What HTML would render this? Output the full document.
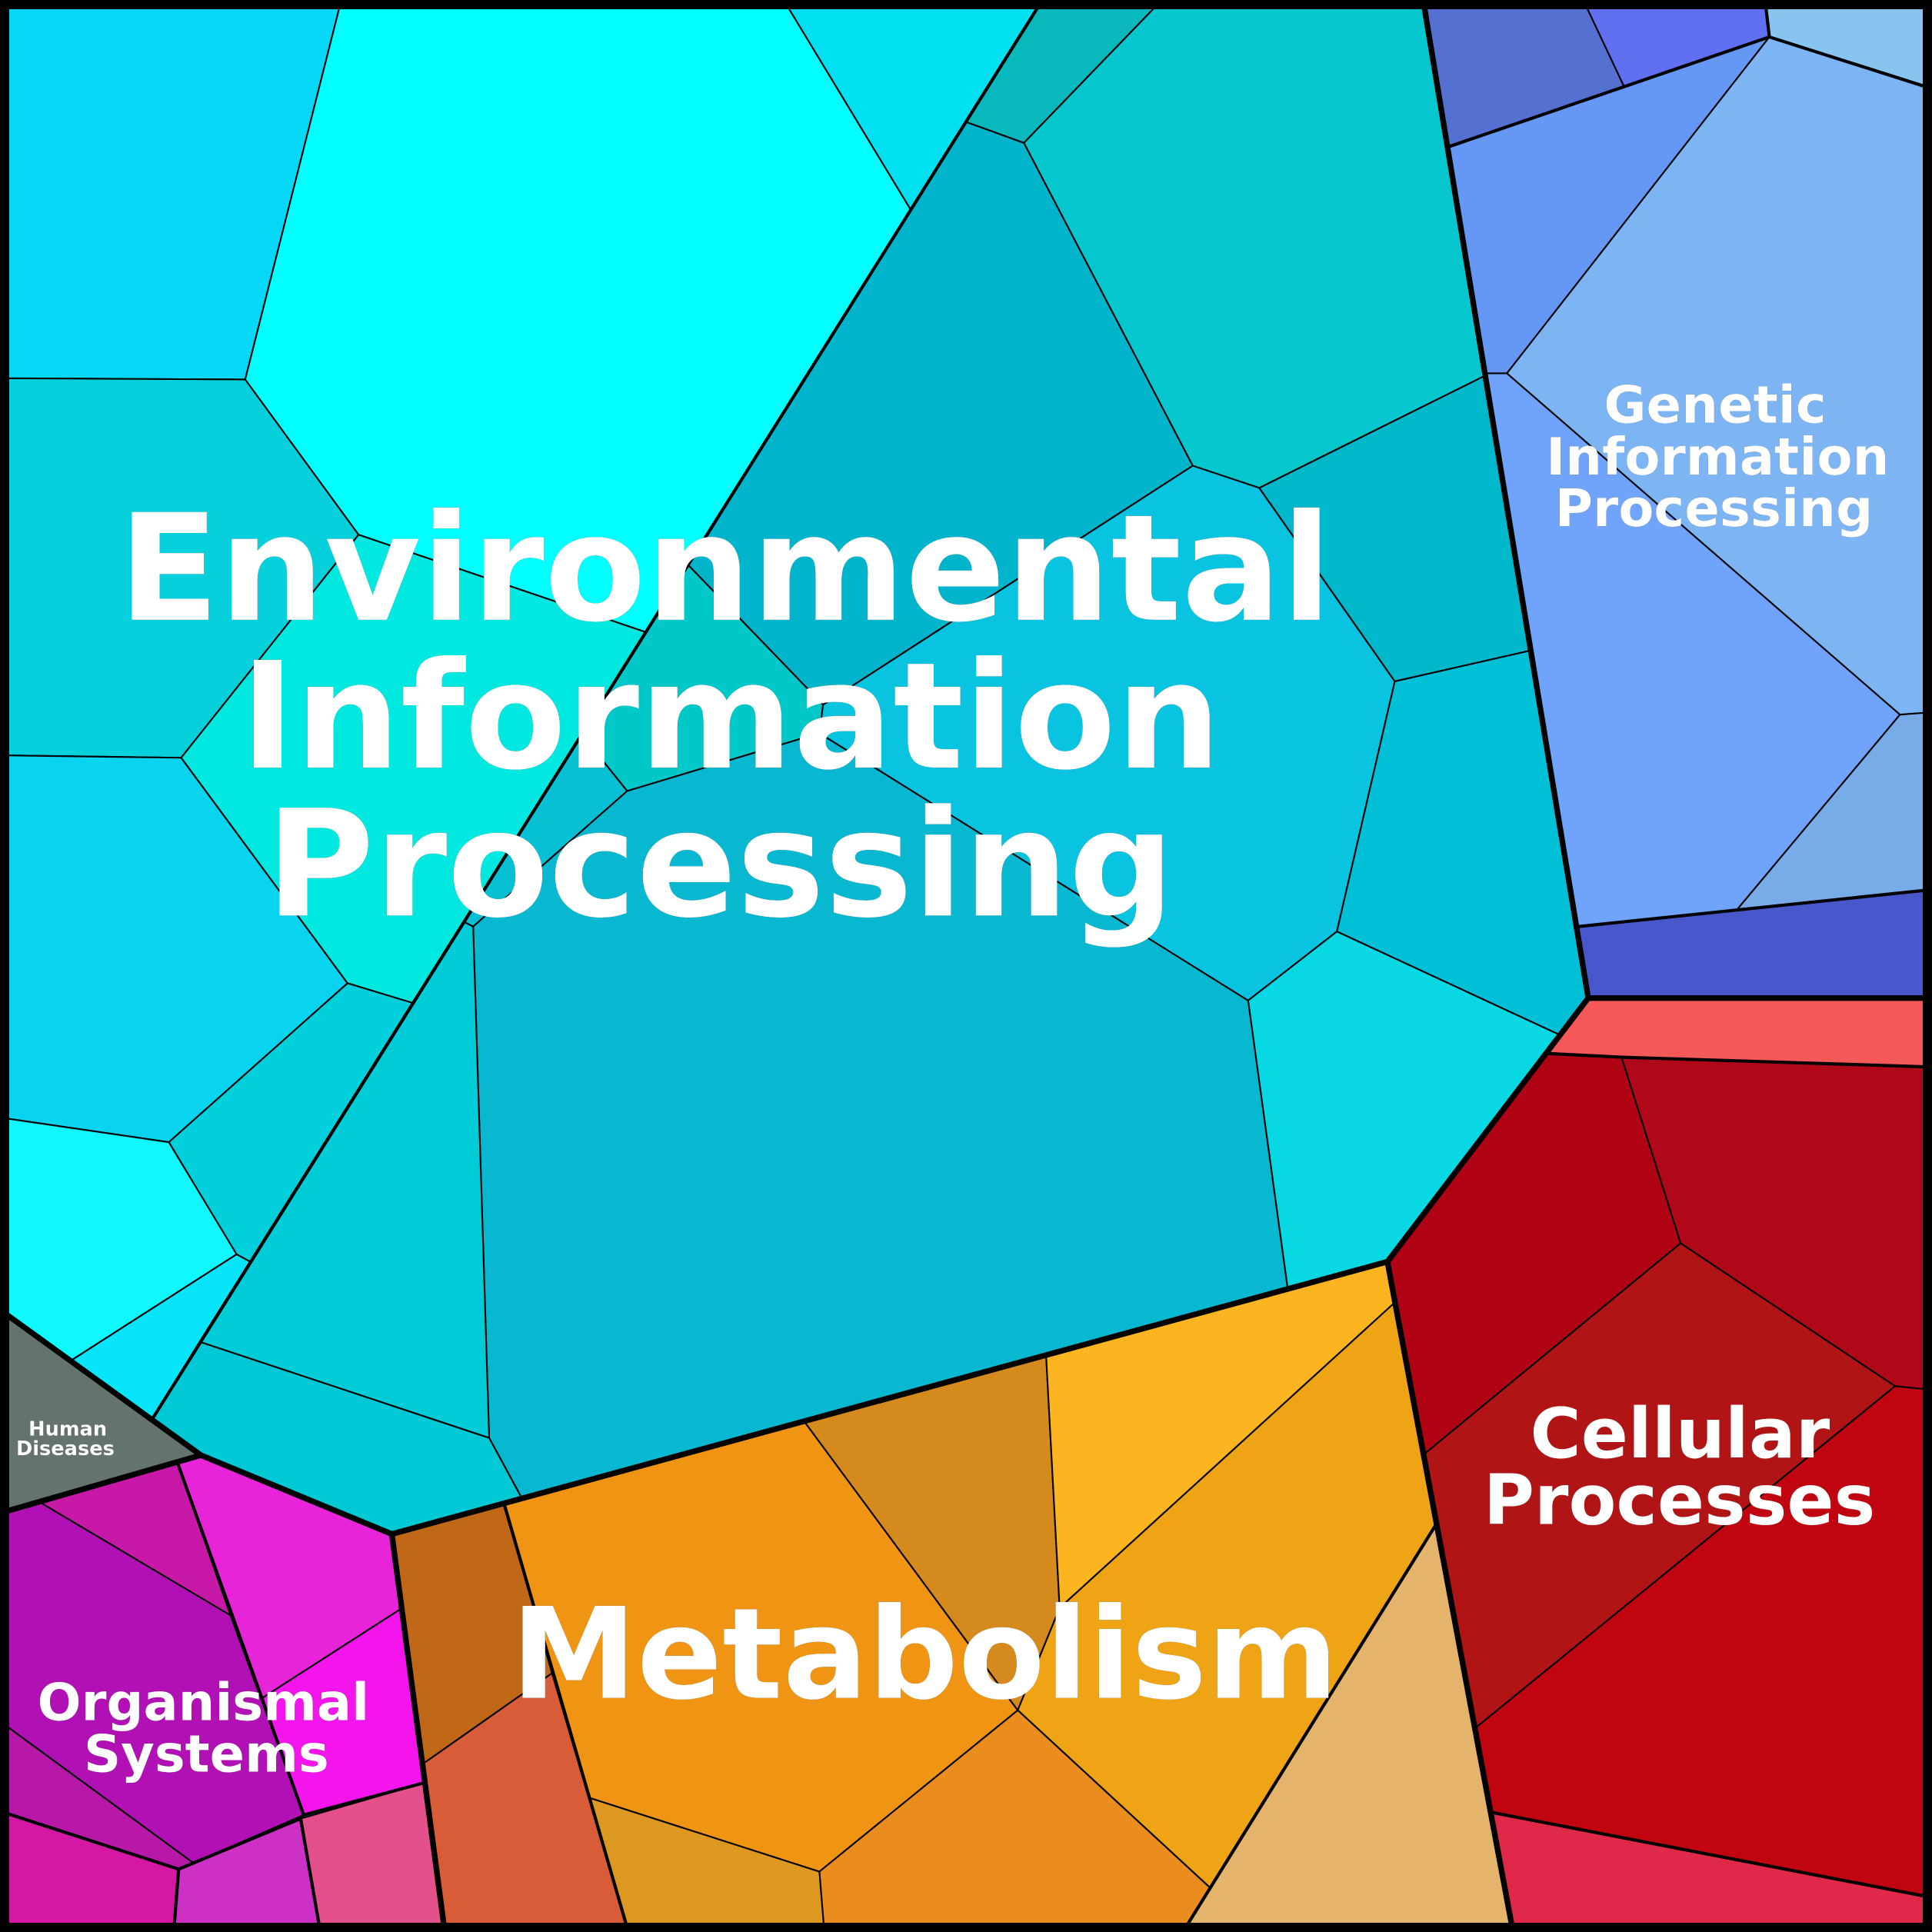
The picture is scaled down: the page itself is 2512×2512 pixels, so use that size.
<!DOCTYPE html>
<html><head><meta charset="utf-8"><style>
html,body{margin:0;padding:0;background:#000}
svg{display:block}
text{font-family:"DejaVu Sans","Liberation Sans",sans-serif;font-weight:bold;fill:#fff;text-anchor:middle;filter:drop-shadow(.95px .95px 0 #000)}
.c polygon{stroke:#000;stroke-width:1.3;stroke-linejoin:round}
.m{stroke:#000;stroke-width:2.6;fill:none;stroke-linecap:round;stroke-linejoin:round}
.t{stroke:#000;stroke-width:4.6;fill:none;stroke-linecap:round;stroke-linejoin:round}
</style></head><body>
<svg width="2512" height="2512" viewBox="0 0 1568 1568" xmlns="http://www.w3.org/2000/svg">
<rect width="1568" height="1568" fill="#08b8d0"/>
<g class="c">
<polygon fill="#08d8f8" points="0,0 277,0 199,308 0,307"/>
<polygon fill="#00ffff" points="277,0 636,0 739,170 524,513 291,434 199,308"/>
<polygon fill="#00e0f0" points="636,0 846,0 739,170"/>
<polygon fill="#05d0dc" points="0,307 199,308 291,434 147,615 0,613"/>
<polygon fill="#00e8e0" points="147,615 291,434 524,513 335,814 282,798"/>
<polygon fill="#08d4f0" points="0,613 147,615 282,798 137,927 0,907"/>
<polygon fill="#00d0dc" points="282,798 335,814 203,1024 192,1018 137,927"/>
<polygon fill="#10f8ff" points="0,907 137,927 192,1018 58,1104 0,1063"/>
<polygon fill="#08e4fa" points="58,1104 192,1018 203,1024 124,1151"/>
<polygon fill="#08b8bc" points="846,0 943,0 831,116 784,99"/>
<polygon fill="#06c6ce" points="943,0 1155,0 1205,305 1022,396 968,378 831,116"/>
<polygon fill="#00b4cc" points="784,99 831,116 968,378 668,572 558,458"/>
<polygon fill="#00c8c8" points="558,458 668,572 665,595 509,642 472,596"/>
<polygon fill="#08c0d4" points="472,596 509,642 384,752 376,748"/>
<polygon fill="#08b8d0" points="509,642 665,595 1013,812 1045,1045 423,1215 397,1167 384,752"/>
<polygon fill="#08c4e0" points="968,378 1022,396 1132,553 1085,756 1013,812 665,595 668,572"/>
<polygon fill="#00b8cc" points="1022,396 1205,305 1242,528 1132,553"/>
<polygon fill="#00c0d8" points="1132,553 1242,528 1289,810 1266,840 1085,756"/>
<polygon fill="#08d8e4" points="1085,756 1266,840 1126,1024 1045,1045 1013,812"/>
<polygon fill="#00ccd8" points="376,748 384,752 397,1167 162,1089"/>
<polygon fill="#00c8d4" points="162,1089 397,1167 423,1215 318,1245 163,1181 124,1151"/>

<polygon fill="#5470d0" points="1155,0 1285,0 1318,70 1176,119"/>
<polygon fill="#6070f0" points="1285,0 1432.5,0 1436,30 1318,70"/>
<polygon fill="#88c4f0" points="1432.5,0 1568,0 1568,72 1436,30"/>
<polygon fill="#6498f4" points="1176,119 1436,30 1223,303 1206,303"/>
<polygon fill="#7cb4f4" points="1436,30 1568,72 1568,578 1542,580 1223,303"/>
<polygon fill="#70a4fc" points="1206,303 1223,303 1542,580 1410,738 1281,752"/>
<polygon fill="#78ace8" points="1542,580 1568,578 1568,722 1410,738"/>
<polygon fill="#4858cc" points="1281,752 1568,722 1568,810 1289,810"/>

<polygon fill="#f45858" points="1289,810 1568,810 1568,866 1316,858 1256,855"/>
<polygon fill="#b00414" points="1256,855 1316,858 1364,1009 1156,1180 1126,1024"/>
<polygon fill="#b00818" points="1316,858 1568,866 1568,1128 1538,1125 1364,1009"/>
<polygon fill="#b01414" points="1364,1009 1538,1125 1198,1402 1156,1180"/>
<polygon fill="#c00410" points="1538,1125 1568,1128 1568,1540 1211,1471 1198,1402"/>
<polygon fill="#e02848" points="1211,1471 1568,1540 1568,1568 1228,1568"/>

<polygon fill="#c06818" points="318,1245 409,1220 448,1358 344,1431"/>
<polygon fill="#d85c38" points="344,1431 448,1358 510,1568 361,1568"/>
<polygon fill="#f09414" points="409,1220 653,1154 820,1380 826,1388 665,1519 478,1459"/>
<polygon fill="#d48a1c" points="653,1154 849,1100 860,1305 826,1388 820,1380"/>
<polygon fill="#fcb420" points="849,1100 1126,1024 1131,1058 860,1305"/>
<polygon fill="#eea414" points="1131,1058 1165,1238 982,1532 826,1388 860,1305"/>
<polygon fill="#ea8c1e" points="826,1388 982,1532 960,1568 669,1568 665,1519"/>
<polygon fill="#dc9820" points="478,1459 665,1519 669,1568 510,1568"/>
<polygon fill="#e4b46c" points="1165,1238 1228,1568 960,1568"/>

<polygon fill="#c818a8" points="0,1228 144,1187 187,1311 32,1219"/>
<polygon fill="#b010b4" points="0,1228 32,1219 187,1311 246.5,1473 157,1512 0,1397"/>
<polygon fill="#e824d8" points="144,1187 163,1181 318,1245 325,1306 213,1378"/>
<polygon fill="#f414ec" points="213,1378 325,1306 344,1447 246.5,1473"/>
<polygon fill="#b818a8" points="0,1397 157,1512 145,1517 0,1470"/>
<polygon fill="#d418a4" points="0,1470 145,1517 141,1568 0,1568"/>
<polygon fill="#cc30c4" points="145,1517 244,1476 260,1568 141,1568"/>
<polygon fill="#e4508c" points="244,1476 344,1447 361,1568 260,1568"/>
<polygon fill="#64746c" points="0,1063 163,1181 0,1228"/>
</g>
<g class="m">
<path d="M846,0 L124,1151"/>
<path d="M1176,119 L1436,30 L1568,72 M1432.5,0 L1436,30"/>
<path d="M1281,752 L1568,722"/>
<path d="M1256,855 L1316,858 L1568,866"/>
<path d="M1211,1471 L1568,1540"/>
<path d="M409,1220 L510,1568"/>
<path d="M1165,1238 L960,1568"/>
<path d="M144,1187 L246.5,1473 L244,1476 L157,1512 M246.5,1473 L344,1447 M244,1476 L260,1568"/>
<path d="M0,1470 L145,1517 L141,1568 M145,1517 L157,1512"/>
</g>
<g class="t">
<path d="M1155,0 L1289,810 L1126,1024 L318,1245 L163,1181 L0,1063"/>
<path d="M0,1228 L163,1181"/>
<path d="M1289,810 L1568,810"/>
<path d="M1126,1024 L1228,1568"/>
<path d="M318,1245 L361,1568"/>
</g>
<rect x="3.75" y="3.75" width="1560.5" height="1560.5" fill="none" stroke="#000" stroke-width="7.5"/>

<text x="588.5" y="503" font-size="120">Environmental</text>
<text x="593" y="623" font-size="120">Information</text>
<text x="584.5" y="743" font-size="120">Processing</text>
<text x="750.5" y="1378" font-size="102.5">Metabolism</text>
<text x="1392" y="343" font-size="42">Genetic</text>
<text x="1394" y="385" font-size="42">Information</text>
<text x="1391" y="427" font-size="42">Processing</text>
<text x="1363.5" y="1183" font-size="56.3">Cellular</text>
<text x="1363" y="1237" font-size="56.3">Processes</text>
<text x="165" y="1396" font-size="41.8">Organismal</text>
<text x="167.5" y="1438" font-size="41.8">Systems</text>
<text x="55" y="1165" font-size="16">Human</text>
<text x="53" y="1181" font-size="16">Diseases</text>
</svg>
</body></html>
